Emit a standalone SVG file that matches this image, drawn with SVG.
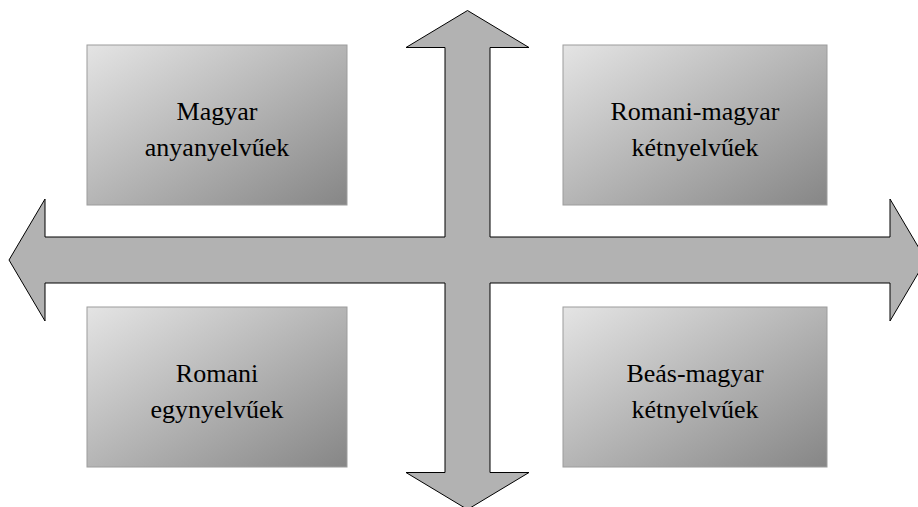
<svg xmlns="http://www.w3.org/2000/svg" width="918" height="507" viewBox="0 0 918 507">
  <defs>
    <linearGradient id="boxGrad" x1="0" y1="0" x2="1" y2="1">
      <stop offset="0" stop-color="#e4e4e4"/>
      <stop offset="1" stop-color="#868686"/>
    </linearGradient>
    <style>
      .box { fill: url(#boxGrad); stroke: #9c9c9c; stroke-width: 1; }
      .lbl { font-family: "Liberation Serif", "Times New Roman", serif; font-size: 26px; fill: #000; text-anchor: middle; }
      .arrow { fill: #b2b2b2; stroke: #000; stroke-width: 1; stroke-linejoin: miter; }
    </style>
  </defs>
  <rect width="918" height="507" fill="#fff"/>

  <g id="connectors">
    <polygon class="arrow" points="467.5,10.5 529,47.5 490,47.5 490,237 890,237 890,199 926,260 890,321 890,283 490,283 490,472.5 529,472.5 467.5,509.5 406,472.5 445,472.5 445,283 45,283 45,321 9,260 45,199 45,237 445,237 445,47.5 406,47.5"/>
  </g>

  <g id="magyar-anyanyelvuek">
    <rect class="box" x="87" y="45" width="260" height="160"/>
    <text class="lbl" x="217" y="120">Magyar</text>
    <text class="lbl" x="217" y="156">anyanyelvűek</text>
  </g>

  <g id="romani-magyar-ketnyelvuek">
    <rect class="box" x="563" y="45" width="264" height="160"/>
    <text class="lbl" x="695" y="120">Romani-magyar</text>
    <text class="lbl" x="695" y="156">kétnyelvűek</text>
  </g>

  <g id="romani-egynyelvuek">
    <rect class="box" x="87" y="307" width="260" height="160"/>
    <text class="lbl" x="217" y="382">Romani</text>
    <text class="lbl" x="217" y="418">egynyelvűek</text>
  </g>

  <g id="beas-magyar-ketnyelvuek">
    <rect class="box" x="563" y="307" width="264" height="160"/>
    <text class="lbl" x="695" y="382">Beás-magyar</text>
    <text class="lbl" x="695" y="418">kétnyelvűek</text>
  </g>
</svg>
